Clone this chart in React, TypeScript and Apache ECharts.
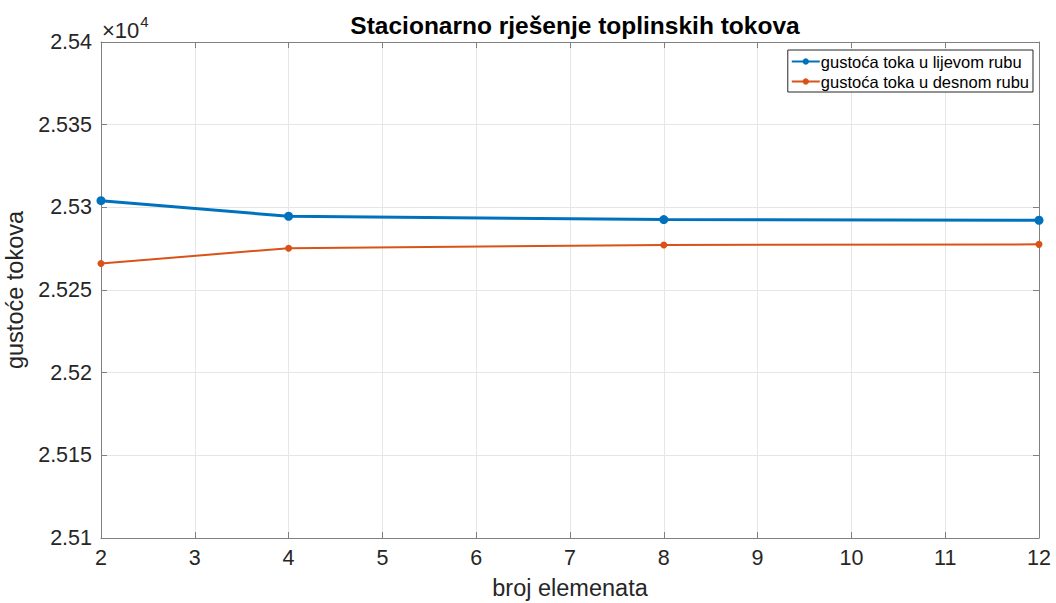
import React, { useEffect, useRef } from "react";
import * as echarts from "echarts";

const xValues = [2, 4, 8, 12];
const leftEdge = [25304, 25294.6, 25292.6, 25292.2];
const rightEdge = [25266, 25275.3, 25277.2, 25277.6];
const seriesNames = ["gustoća toka u lijevom rubu", "gustoća toka u desnom rubu"];
const titleText = "Stacionarno rješenje toplinskih tokova";
const xName = "broj elemenata";
const yName = "gustoće tokova";

const FONT = "Liberation Sans, Arial, sans-serif";
const AX = "#262626";
const AXLINE = "#808080";

export default function App() {
  const ref = useRef<HTMLDivElement>(null);
  useEffect(() => {
    if (!ref.current) return;
    const chart = echarts.init(ref.current, undefined, { renderer: "svg" });
    const fmt = (v: number) => parseFloat((v / 1e4).toFixed(4)).toString();
    const baseX = {
      type: "value" as const,
      min: 2,
      max: 12,
      interval: 1,
      axisLine: { show: true, lineStyle: { color: AXLINE, width: 1 } },
      axisTick: { show: true, inside: true, length: 6, lineStyle: { color: AXLINE } },
      splitLine: { show: false },
    };
    const baseY = {
      type: "value" as const,
      min: 25100,
      max: 25400,
      interval: 50,
      axisLine: { show: true, lineStyle: { color: AXLINE, width: 1 } },
      axisTick: { show: true, inside: true, length: 6, lineStyle: { color: AXLINE } },
      splitLine: { show: false },
    };
    chart.setOption({
      animation: false,
      backgroundColor: "#ffffff",
      textStyle: { fontFamily: FONT },
      title: {
        text: titleText,
        left: 570,
        top: 8,
        textAlign: "center",
        textStyle: { fontFamily: FONT, fontSize: 24.5, fontWeight: "bold", color: "#000" },
      },
      grid: { left: 101, right: 17, top: 42, bottom: 65, containLabel: false, outerBoundsMode: "none" },
      legend: {
        orient: "vertical",
        right: 23,
        top: 50,
        itemWidth: 28,
        itemHeight: 8,
        itemGap: 3,
        padding: [3, 4, 2, 3],
        borderColor: AX,
        borderWidth: 1,
        backgroundColor: "#fff",
        textStyle: { fontFamily: FONT, fontSize: 16.5, color: "#000", padding: [0, 0, 0, -4] },
        data: seriesNames,
      },
      xAxis: [
        {
          ...baseX,
          position: "bottom",
          name: xName,
          nameLocation: "middle",
          nameGap: 38,
          nameTextStyle: { fontFamily: FONT, fontSize: 23.5, color: AX },
          axisLabel: { fontFamily: FONT, fontSize: 21.5, color: AX, margin: 9 },
          splitLine: { show: true, lineStyle: { color: "#e6e6e6", width: 1 } },
        },
        { ...baseX, position: "top", axisLabel: { show: false } },
      ],
      yAxis: [
        {
          ...baseY,
          position: "left",
          name: yName,
          nameLocation: "middle",
          nameGap: 62,
          nameTextStyle: { fontFamily: FONT, fontSize: 23.5, color: AX },
          axisLabel: { fontFamily: FONT, fontSize: 21.5, color: AX, margin: 9, formatter: fmt },
          splitLine: { show: true, lineStyle: { color: "#e6e6e6", width: 1 } },
        },
        { ...baseY, position: "right", axisLabel: { show: false } },
      ],
      graphic: [
        {
          type: "text",
          left: 102,
          top: 14,
          style: {
            text: "{a|×10}{b|4}",
            rich: {
              a: { fontFamily: FONT, fontSize: 22, fill: AX, verticalAlign: "bottom" },
              b: { fontFamily: FONT, fontSize: 15, fill: AX, verticalAlign: "top", padding: [0, 0, 12, 1] },
            },
          },
        },
      ],
      series: [
        {
          name: seriesNames[0],
          type: "line",
          data: xValues.map((x, i) => [x, leftEdge[i]]),
          color: "#0072BD",
          lineStyle: { width: 3, color: "#0072BD" },
          symbol: "circle",
          symbolSize: 9,
          itemStyle: { color: "#0072BD" },
          z: 3,
        },
        {
          name: seriesNames[1],
          type: "line",
          data: xValues.map((x, i) => [x, rightEdge[i]]),
          color: "#D95319",
          lineStyle: { width: 2, color: "#D95319" },
          symbol: "circle",
          symbolSize: 7,
          itemStyle: { color: "#D95319" },
          z: 3,
        },
      ],
    });
    return () => chart.dispose();
  }, []);
  return (
    <div
      ref={ref}
      style={{ position: "absolute", left: 0, top: 0, width: 1056, height: 603 }}
    />
  );
}
